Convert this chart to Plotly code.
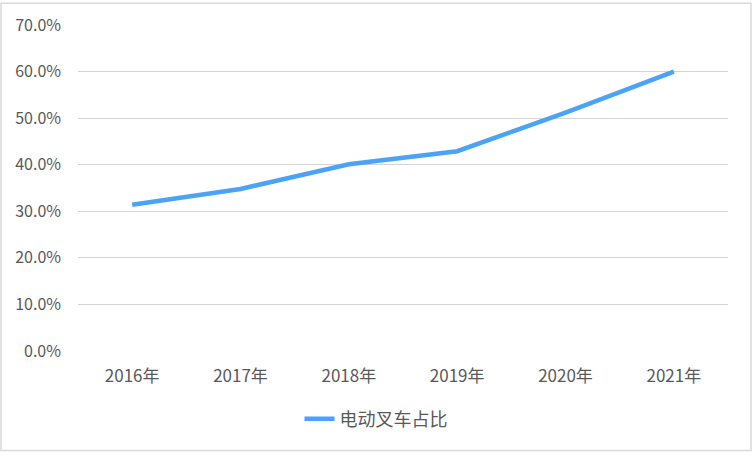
import plotly.graph_objects as go

# data
years = ["2016年", "2017年", "2018年", "2019年", "2020年", "2021年"]
share = [0.314, 0.348, 0.401, 0.429, 0.512, 0.600]
series_name = "电动叉车占比"

font_family = "Liberation Sans Narrow, Noto Sans CJK SC, sans-serif"
line_color = "#4BA3F7"
grid_color = "#D4D4D4"
text_color = "#595959"

fig = go.Figure()
fig.add_trace(go.Scatter(
    x=years, y=share, name=series_name,
    mode="lines",
    line={"color": line_color, "width": 4.5},
))

fig.update_layout(
    width=752, height=452,
    margin={"l": 78, "r": 24, "t": 23, "b": 101},
    paper_bgcolor="white", plot_bgcolor="white",
    font={"family": font_family, "color": text_color, "size": 16},
    showlegend=True,
    legend={
        "orientation": "h",
        "xref": "container", "yref": "container",
        "x": 0.5, "xanchor": "center",
        "y": 0.073, "yanchor": "middle",
        "font": {"size": 18, "color": text_color},
    },
    xaxis={
        "range": [-0.5, 5.5],
        "showgrid": False, "zeroline": False, "showline": False,
        "ticks": "", "ticklabelstandoff": 13,
        "tickfont": {"size": 17},
        "fixedrange": True,
    },
    yaxis={
        "range": [0, 0.7], "dtick": 0.1, "tickformat": ".1%",
        "showgrid": True, "gridcolor": grid_color, "gridwidth": 1,
        "zeroline": False, "showline": False,
        "ticks": "", "ticklabelstandoff": 16,
        "fixedrange": True,
    },
    # light frame round the whole chart, like the spreadsheet chart area
    shapes=[{
        "type": "rect", "xref": "paper", "yref": "paper",
        "x0": -77 / 650, "x1": 1 + 23 / 650,
        "y0": -100 / 328, "y1": 1 + 22 / 328,
        "line": {"color": "#D9D9D9", "width": 1.5},
        "fillcolor": "rgba(0,0,0,0)", "layer": "below",
    }],
)

# drop the browser's default page margin so the chart sits at the corner
fig.write_html("out.html", config={"displayModeBar": False},
               post_script="document.body.style.margin='0';")
